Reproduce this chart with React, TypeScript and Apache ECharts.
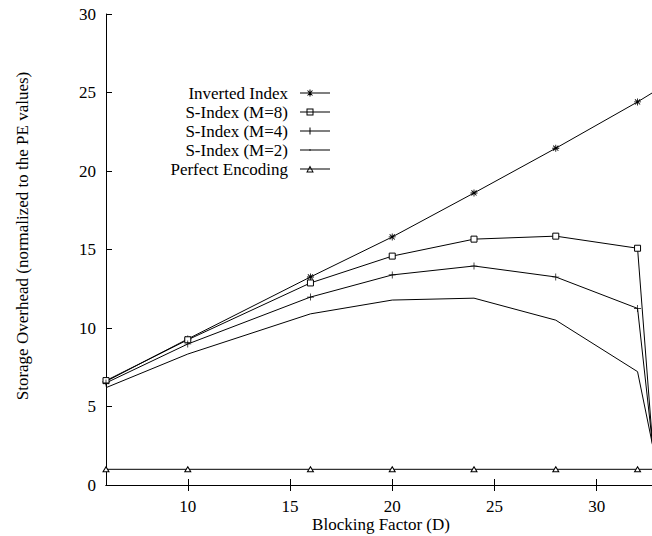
import React, { useEffect, useRef } from "react";
import * as echarts from "echarts";

const xValues = [6, 10, 16, 20, 24, 28, 32, 33];
const invertedIndex = [6.6, 9.3, 13.25, 15.8, 18.6, 21.45, 24.4, 25.2];
const sIndexM8 = [6.65, 9.25, 12.87, 14.58, 15.66, 15.85, 15.08, -1.9];
const sIndexM4 = [6.5, 8.98, 11.97, 13.38, 13.95, 13.25, 11.25, -0.6];
const sIndexM2 = [6.2, 8.34, 10.9, 11.78, 11.9, 10.5, 7.22, 0.85];
const perfectEncoding = [1, 1, 1, 1, 1, 1, 1, 1];

const seriesNames = [
  "Inverted Index",
  "S-Index (M=8)",
  "S-Index (M=4)",
  "S-Index (M=2)",
  "Perfect Encoding",
];
const xTickValues = [10, 15, 20, 25, 30];
const xAxisTitle = "Blocking Factor (D)";
const yAxisTitle = "Storage Overhead (normalized to the PE values)";

const FONT = "Liberation Serif";

// series marker shapes
const ASTERISK =
  "path://M4.4,0h1.2v10h-1.2zM0,4.4h10v1.2h-10zM0.9,1.75L1.75,0.9L9.1,8.25L8.25,9.1zM8.25,0.9L9.1,1.75L1.75,9.1L0.9,8.25z";
const PLUS = "path://M4.5,0h1v10h-1zM0,4.5h10v1h-10z";

// legend sample icons (30 x 8 box, line plus marker)
const TINY = "M0,0h0.01v0.01h-0.01zM0,7.99h0.01v0.01h-0.01z";
const LINE = "M0,3.5h30v1h-30z";
const legendIcons = [
  "path://" + TINY + LINE +
    "M9.5,0.5h1v7h-1zM6.5,3.5h7v1h-7zM7.15,1.85L7.85,1.15L12.85,6.15L12.15,6.85zM12.15,1.15L12.85,1.85L7.85,6.85L7.15,6.15z",
  "path://" + TINY + LINE + "M6.5,0.5h7v7h-7zM7.5,1.5v5h5v-5z",
  "path://" + TINY + LINE + "M9.5,0.5h1v7h-1z",
  "path://" + TINY + LINE + "M9.25,3.25h1.5v1.5h-1.5z",
  "path://" + TINY + LINE + "M10,0.5L13.8,7.5L6.2,7.5zM10,2.6L7.8,6.6L12.2,6.6z",
];

function pairs(vals: number[]) {
  return xValues.map((x, i) => [x, vals[i]]);
}

export default function App() {
  const ref = useRef<HTMLDivElement>(null);
  useEffect(() => {
    if (!ref.current) return;
    const chart = echarts.init(ref.current, undefined, { renderer: "svg" });
    const seriesData = [invertedIndex, sIndexM8, sIndexM4, sIndexM2, perfectEncoding];
    const symbols = [ASTERISK, "rect", PLUS, "circle", "triangle"];
    const sizes: any[] = [7, 6, 7, 0, [6, 5]];
    const fills = ["#000", "#fff", "#000", "#000", "#fff"];
    const borders = [0, 1, 0, 0, 1];
    const rowCenters = [92.5, 111.5, 130.5, 149.5, 168.5];
    const axisText = { color: "#000", fontFamily: FONT, fontSize: 17 };
    chart.setOption({
      animation: false,
      backgroundColor: "#fff",
      grid: { left: 106, top: 14, right: -6, bottom: 51, outerBoundsMode: "none", containLabel: false },
      xAxis: [
        {
          type: "value",
          min: 6,
          max: 33,
          position: "bottom",
          axisLine: { show: true, lineStyle: { color: "#000", width: 1 } },
          axisTick: { show: true, inside: true, length: 6, customValues: xTickValues, lineStyle: { color: "#000" } },
          axisLabel: { show: true, customValues: xTickValues, margin: 13, ...axisText },
          splitLine: { show: false },
        },
        {
          type: "value",
          min: 6,
          max: 33,
          position: "top",
          axisLine: { show: true, lineStyle: { color: "#000", width: 1 } },
          axisTick: { show: true, inside: true, length: 6, customValues: xTickValues, lineStyle: { color: "#000" } },
          axisLabel: { show: false },
          splitLine: { show: false },
        },
      ],
      yAxis: [
        {
          type: "value",
          min: 0,
          max: 30,
          interval: 5,
          position: "left",
          axisLine: { show: true, lineStyle: { color: "#000", width: 1 } },
          axisTick: { show: true, inside: true, length: 6, lineStyle: { color: "#000" } },
          axisLabel: { show: true, margin: 10, ...axisText },
          splitLine: { show: false },
        },
        {
          type: "value",
          min: 0,
          max: 30,
          interval: 5,
          position: "right",
          axisLine: { show: true, lineStyle: { color: "#000", width: 1 } },
          axisTick: { show: true, inside: true, length: 6, lineStyle: { color: "#000" } },
          axisLabel: { show: false },
          splitLine: { show: false },
        },
      ],
      legend: seriesNames.map((name, i) => ({
        data: [{ name, icon: legendIcons[i] }],
        orient: "vertical",
        right: 322,
        top: rowCenters[i] - 8,
        padding: 0,
        align: "right",
        itemWidth: 30,
        itemHeight: 8,
        symbolKeepAspect: false,
        selectedMode: false,
        itemStyle: { color: "#000", borderWidth: 0 },
        textStyle: { color: "#000", fontFamily: FONT, fontSize: 17, lineHeight: 16, padding: [0, 7, 0, 0] },
      })),
      graphic: [
        {
          type: "text",
          x: 22,
          y: 236,
          rotation: Math.PI / 2,
          style: {
            text: yAxisTitle,
            fill: "#000",
            font: `17px "${FONT}"`,
            textAlign: "center",
            textVerticalAlign: "middle",
          },
        },
        {
          type: "text",
          x: 381,
          y: 524,
          style: {
            text: xAxisTitle,
            fill: "#000",
            font: `17px "${FONT}"`,
            textAlign: "center",
            textVerticalAlign: "middle",
          },
        },
      ],
      series: seriesData.map((vals, i) => ({
        name: seriesNames[i],
        type: "line",
        xAxisIndex: 0,
        yAxisIndex: 0,
        data: pairs(vals),
        symbol: symbols[i],
        symbolSize: sizes[i],
        showSymbol: i !== 3,
        clip: true,
        lineStyle: { color: "#000", width: 1 },
        itemStyle: { color: fills[i], borderColor: "#000", borderWidth: borders[i] },
        emphasis: { disabled: true },
      })),
    });
    return () => chart.dispose();
  }, []);
  return (
    <div
      ref={ref}
      style={{ position: "fixed", left: 0, top: 0, width: 652, height: 536 }}
    />
  );
}
